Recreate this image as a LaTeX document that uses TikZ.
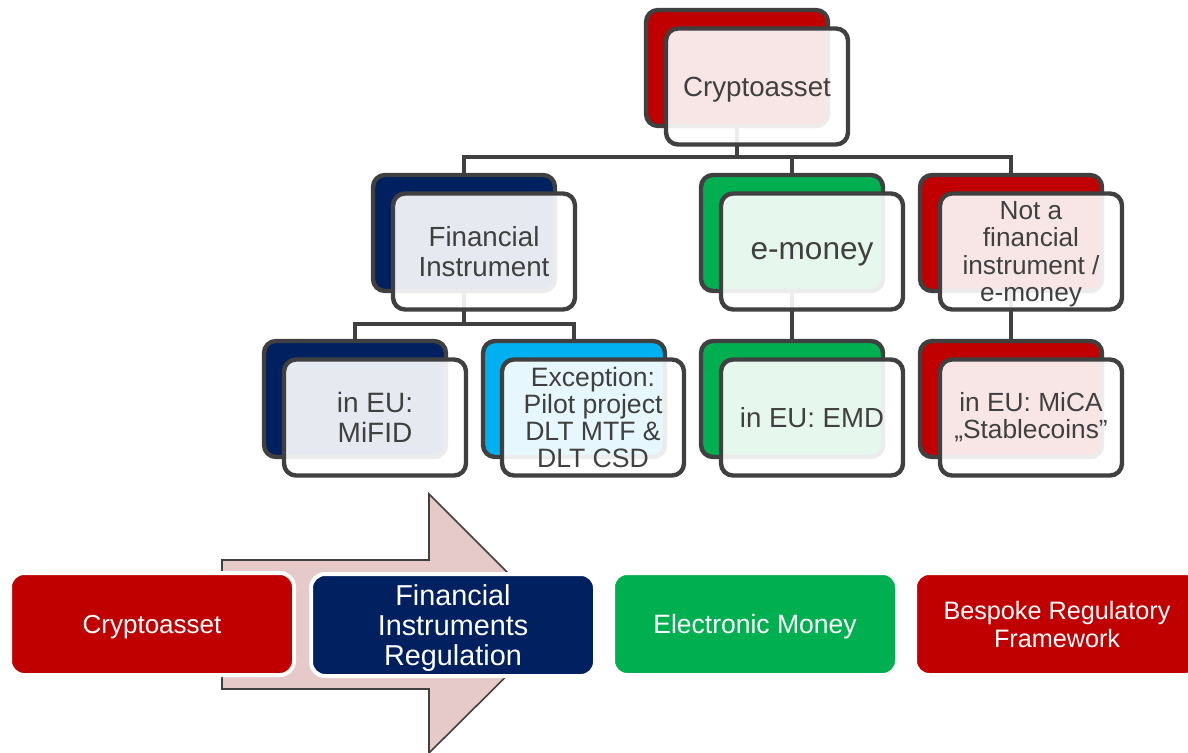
\documentclass[tikz,border=0pt]{standalone}
\usepackage{fontspec}
\setmainfont{Liberation Sans}
\usetikzlibrary{backgrounds}
\definecolor{dgrey}{HTML}{404040}
\definecolor{cred}{HTML}{C00000}
\definecolor{cnavy}{HTML}{002060}
\definecolor{cgreen}{HTML}{00B050}
\definecolor{cblue}{HTML}{00B0F0}
\definecolor{arrowpink}{HTML}{E6C9C9}
\tikzset{
  conn/.style={draw=dgrey, line width=2pt},
  backbox/.style={draw=dgrey, line width=2.2pt, rounded corners=6pt, minimum width=91pt, minimum height=58pt, inner sep=0pt},
  frontbox/.style={draw=dgrey, line width=2.2pt, rounded corners=6pt, fill=white, fill opacity=0.9, text opacity=1, draw opacity=1, minimum width=91pt, minimum height=58pt, inner sep=0pt, align=center, text=dgrey},
  botbox/.style={draw=white, line width=2pt, rounded corners=7pt, minimum width=142pt, minimum height=51pt, text=white, align=center, inner sep=0pt},
  bigarrow/.style={fill=arrowpink, draw=dgrey, line width=0.8pt},
}
\newcommand{\fsz}[2]{\fontsize{#1pt}{#2pt}\selectfont}
\begin{document}
\begin{tikzpicture}[x=0.5pt,y=-0.5pt]
\useasboundingbox (0,0) rectangle (1188,753);
\clip (0,0) rectangle (1188,753);

% ---------- bottom arrow ----------
\draw[bigarrow] (222,560) -- (429,560) -- (429,494) -- (559,624) -- (429,753) -- (429,689) -- (222,689) -- cycle;

% ---------- back boxes ----------
\node[backbox, fill=cred]   (cb)   at (737,68)  {};
\node[backbox, fill=cnavy]  (fib)  at (464,233) {};
\node[backbox, fill=cgreen] (emb)  at (792,233) {};
\node[backbox, fill=cred]   (nfb)  at (1011,233) {};
\node[backbox, fill=cnavy]  (mib)  at (355,399) {};
\node[backbox, fill=cblue]  (exb)  at (574,399) {};
\node[backbox, fill=cgreen] (edb)  at (792,399) {};
\node[backbox, fill=cred]   (mcb)  at (1011,399) {};

% ---------- front boxes ----------
\node[frontbox, font=\fsz{13.85}{14.75}, text depth=0pt] (cf)  at (757,86.5)  {Cryptoasset};
\node[frontbox, font=\fsz{13.85}{14.75}] (fif) at (484,251.5) {Financial\\Instrument};
\node[frontbox, font=\fsz{15.8}{16.5}, text height=8.4pt, text depth=0pt] (emf) at (812,251.5) {e-money};
\node[frontbox, font=\fsz{13.1}{13.75}, text depth=0pt]  (nff) at (1031,251.5) {Not a\\financial\\instrument /\\e-money};
\node[frontbox, font=\fsz{14}{15}]       (mif) at (375,417.5) {in EU:\\MiFID};
\node[frontbox, font=\fsz{13.3}{13.65}]  (exf) at (593,417.5) {Exception:\\Pilot project\\DLT MTF \&\\DLT CSD};
\node[frontbox, font=\fsz{13.8}{14.5}]   (edf) at (812,417.5) {in EU: EMD};
\node[frontbox, font=\fsz{13.15}{13.5}]  (mcf) at (1031,417.5) {in EU: MiCA\\„Stablecoins”};

% ---------- connectors (behind the boxes) ----------
\coordinate (j1) at (737,157);
\coordinate (j2) at (464,324);
\begin{scope}[on background layer]
\draw[conn] (cb.south) -- (j1) -| (fib.north);
\draw[conn] (j1) -| (emb.north);
\draw[conn] (j1) -| (nfb.north);
\draw[conn] (fib.south) -- (j2) -| (mib.north);
\draw[conn] (j2) -| (exb.north);
\draw[conn] (emb.south) -- (edb.north);
\draw[conn] (nfb.south) -- (mcb.north);
\end{scope}

% ---------- bottom boxes ----------
\node[botbox, fill=cred,   font=\fsz{13}{14}, text depth=0pt]     (bc)  at (152,624)  {Cryptoasset};
\node[botbox, fill=cnavy,  font=\fsz{14.4}{15}, text depth=0pt]   (bfi) at (453,625)  {Financial\\Instruments\\Regulation};
\node[botbox, fill=cgreen, font=\fsz{13.25}{14}, text depth=0pt]  (bem) at (755,624)  {Electronic Money};
\node[botbox, fill=cred,   font=\fsz{12.6}{14}]   (bbr) at (1057,624) {Bespoke Regulatory\\Framework};
\end{tikzpicture}
\end{document}
